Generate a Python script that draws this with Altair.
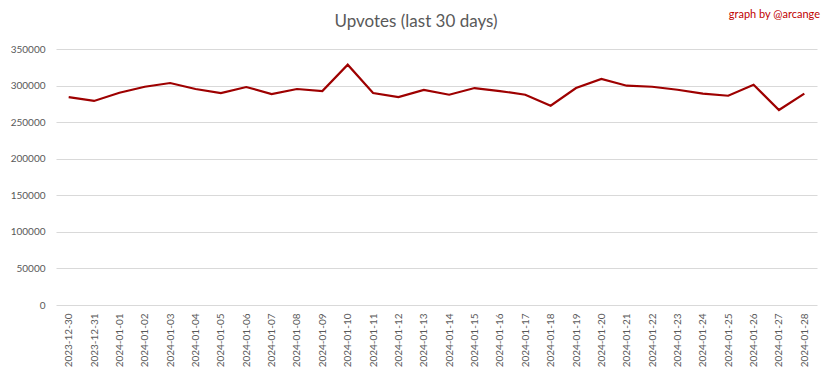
import altair as alt
import pandas as pd

dates = ["2023-12-30", "2023-12-31", "2024-01-01", "2024-01-02", "2024-01-03", "2024-01-04",
         "2024-01-05", "2024-01-06", "2024-01-07", "2024-01-08", "2024-01-09", "2024-01-10",
         "2024-01-11", "2024-01-12", "2024-01-13", "2024-01-14", "2024-01-15", "2024-01-16",
         "2024-01-17", "2024-01-18", "2024-01-19", "2024-01-20", "2024-01-21", "2024-01-22",
         "2024-01-23", "2024-01-24", "2024-01-25", "2024-01-26", "2024-01-27", "2024-01-28"]
upvotes = [284300, 279000, 290200, 298400, 303500, 295300, 289800, 298000, 288400, 295300,
           292500, 328500, 289800, 284300, 294000, 287500, 296600, 292500, 287500, 272500,
           296600, 309000, 299800, 298400, 294300, 288900, 286100, 301100, 266600, 288900]
y_ticks = [0, 50000, 100000, 150000, 200000, 250000, 300000, 350000]

title_text = "Upvotes (last 30 days)"
credit_text = "graph by @arcange"

df = pd.DataFrame({"date": dates, "upvotes": upvotes})
lab = pd.DataFrame({"t": [title_text], "c": [credit_text]})

FONT = "Lato"
GRAY = "#595959"

line = alt.Chart(df).mark_line(color="#9e0000", strokeWidth=2.2).encode(
    x=alt.X("date:N", sort=dates, title=None,
            scale=alt.Scale(padding=0.5),
            axis=alt.Axis(labelAngle=270, ticks=False, domain=False, grid=False,
                          labelPadding=8, labelFontSize=10, labelColor=GRAY, labelFont=FONT,
                          labelBaseline="middle", labelAlign="right")),
    y=alt.Y("upvotes:Q", title=None,
            scale=alt.Scale(domain=[0, 350000], nice=False, zero=True),
            axis=alt.Axis(values=y_ticks, format="d", ticks=False, domain=False,
                          grid=True, gridColor="#d9d9d9", labelPadding=11,
                          labelFontSize=10, labelColor=GRAY, labelFont=FONT)),
)

title = alt.Chart(lab).mark_text(font=FONT, fontSize=17, color=GRAY, align="center",
                                 baseline="middle").encode(
    x=alt.value(360), y=alt.value(-27), text="t:N")

credit = alt.Chart(lab).mark_text(font=FONT, fontSize=11, color="#c00000", align="right",
                                  baseline="middle").encode(
    x=alt.value(764), y=alt.value(-34), text="c:N")

chart = alt.layer(line, title, credit).properties(
    width=761, height=256,
    background="white",
    autosize=alt.AutoSizeParams(type="none"),
    padding={"left": 48, "top": 41, "right": 7, "bottom": 66},
).configure_view(strokeWidth=0)

chart.save("out.html", embed_options={"renderer": "svg", "actions": False})
